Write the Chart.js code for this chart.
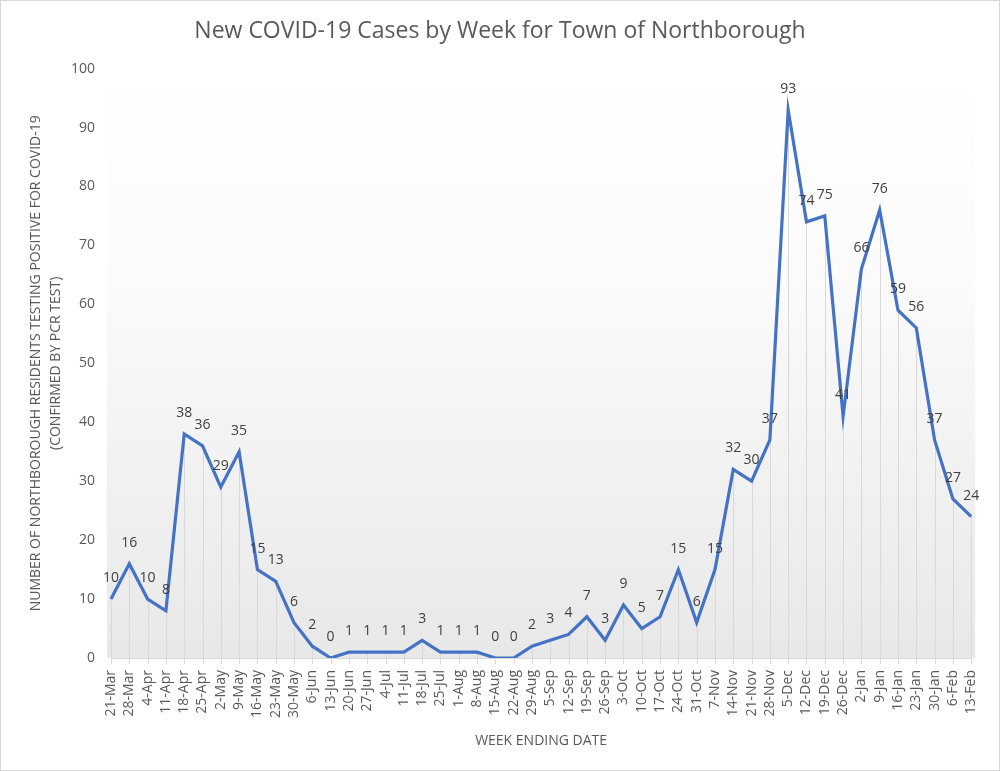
<!DOCTYPE html>
<html>
<head>
<meta charset="utf-8">
<script src="https://cdn.jsdelivr.net/npm/chart.js@4/dist/chart.umd.min.js"></script>
<style>
  html, body { margin: 0; padding: 0; background: #ffffff; }
  #wrap { width: 1000px; height: 771px; }
</style>
</head>
<body>
<div id="wrap"><canvas id="covidChart" width="1000" height="771"></canvas></div>
<script>
const weekLabels = [
    '21-Mar', '28-Mar', '4-Apr', '11-Apr', '18-Apr', '25-Apr', '2-May', '9-May',
    '16-May', '23-May', '30-May', '6-Jun', '13-Jun', '20-Jun', '27-Jun', '4-Jul',
    '11-Jul', '18-Jul', '25-Jul', '1-Aug', '8-Aug', '15-Aug', '22-Aug', '29-Aug',
    '5-Sep', '12-Sep', '19-Sep', '26-Sep', '3-Oct', '10-Oct', '17-Oct', '24-Oct',
    '31-Oct', '7-Nov', '14-Nov', '21-Nov', '28-Nov', '5-Dec', '12-Dec', '19-Dec',
    '26-Dec', '2-Jan', '9-Jan', '16-Jan', '23-Jan', '30-Jan', '6-Feb', '13-Feb'
];
const newCases = [
    10, 16, 10, 8, 38, 36, 29, 35,
    15, 13, 6, 2, 0, 1, 1, 1,
    1, 3, 1, 1, 1, 0, 0, 2,
    3, 4, 7, 3, 9, 5, 7, 15,
    6, 15, 32, 30, 37, 93, 74, 75,
    41, 66, 76, 59, 56, 37, 27, 24
];
const yTitleLines = [
    'NUMBER OF NORTHBOROUGH RESIDENTS TESTING POSITIVE FOR COVID-19',
    '(CONFIRMED BY PCR TEST)'
];

const fontFamily = "'Open Sans', 'Noto Sans', sans-serif";
const textGray = '#595959';

// gradient plot background + outer border
const backdrop = {
    id: 'backdrop',
    beforeDraw(chart) {
        const { ctx, chartArea } = chart;
        ctx.save();
        ctx.strokeStyle = '#d9d9d9';
        ctx.lineWidth = 1;
        ctx.strokeRect(0.5, 0.5, chart.width - 1, chart.height - 1);
        const grad = ctx.createLinearGradient(0, chartArea.top, 0, chartArea.bottom);
        grad.addColorStop(0, '#ffffff');
        grad.addColorStop(0.35, '#fbfbfb');
        grad.addColorStop(1, '#e8e8e8');
        ctx.fillStyle = grad;
        ctx.fillRect(chartArea.left - 4, chartArea.top, chartArea.right - chartArea.left + 8, chartArea.bottom - chartArea.top);
        ctx.restore();
    },
    beforeDatasetsDraw(chart) {
        const { ctx, chartArea } = chart;
        const meta = chart.getDatasetMeta(0);
        ctx.save();
        ctx.strokeStyle = '#d9d9d9';
        ctx.lineWidth = 1;
        ctx.beginPath();
        ctx.moveTo(chartArea.left, chartArea.bottom + 0.5);
        ctx.lineTo(chartArea.right, chartArea.bottom + 0.5);
        meta.data.forEach(pt => {
            const x = Math.round(pt.x) + 0.5;
            ctx.moveTo(x, pt.y);
            ctx.lineTo(x, chartArea.bottom + 6);
        });
        ctx.stroke();
        ctx.restore();
    },
    afterDatasetsDraw(chart) {
        const { ctx } = chart;
        const meta = chart.getDatasetMeta(0);
        ctx.save();
        ctx.fillStyle = '#404040';
        ctx.font = `14px ${fontFamily}`;
        ctx.textAlign = 'center';
        ctx.textBaseline = 'middle';
        meta.data.forEach((pt, i) => {
            ctx.fillText(String(newCases[i]), pt.x, pt.y - 21);
        });
        ctx.restore();
    }
};

const ctx = document.getElementById('covidChart').getContext('2d');
new Chart(ctx, {
    type: 'line',
    data: {
        labels: weekLabels,
        datasets: [{
            label: 'New cases',
            data: newCases,
            borderColor: '#4472C4',
            borderWidth: 3.2,
            pointRadius: 0,
            tension: 0,
            fill: false,
        }],
    },
    options: {
        responsive: false,
        animation: false,
        layout: { padding: { left: 0, right: 0, top: 0, bottom: 10 } },
        plugins: {
            legend: { display: false },
            tooltip: { enabled: false },
            title: {
                display: true,
                text: 'New COVID-19 Cases by Week for Town of Northborough',
                color: textGray,
                font: { family: fontFamily, size: 23, weight: 'normal' },
                padding: { top: 18, bottom: 23 },
            },
        },
        scales: {
            x: {
                offset: false,
                grid: { display: false, drawTicks: false },
                border: { display: false },
                ticks: {
                    autoSkip: false,
                    maxRotation: 90,
                    minRotation: 90,
                    padding: 12,
                    color: textGray,
                    font: { family: fontFamily, size: 14 },
                },
                title: {
                    display: true,
                    text: 'WEEK ENDING DATE',
                    color: textGray,
                    font: { family: fontFamily, size: 14 },
                    padding: { top: 0, bottom: 12 },
                },
                afterFit(scale) { scale.height = 771 - 658 - 10; },
            },
            y: {
                min: 0,
                max: 100,
                grid: { display: false, drawTicks: false },
                border: { display: false },
                ticks: {
                    stepSize: 10,
                    padding: 16,
                    color: textGray,
                    font: { family: fontFamily, size: 14 },
                },
                title: {
                    display: true,
                    text: yTitleLines,
                    color: textGray,
                    font: { family: fontFamily, size: 14, lineHeight: 1.45 },
                    padding: { top: 26, bottom: 0 },
                },
                afterFit(scale) { scale.width = 111; },
            },
            // empty right-hand spacer so the title centres on the full width
            yRight: {
                position: 'right',
                min: 0,
                max: 100,
                grid: { display: false, drawTicks: false },
                border: { display: false },
                ticks: { display: false },
                afterFit(scale) { scale.width = 22; },
            },
        },
    },
    plugins: [backdrop],
});
</script>
</body>
</html>
